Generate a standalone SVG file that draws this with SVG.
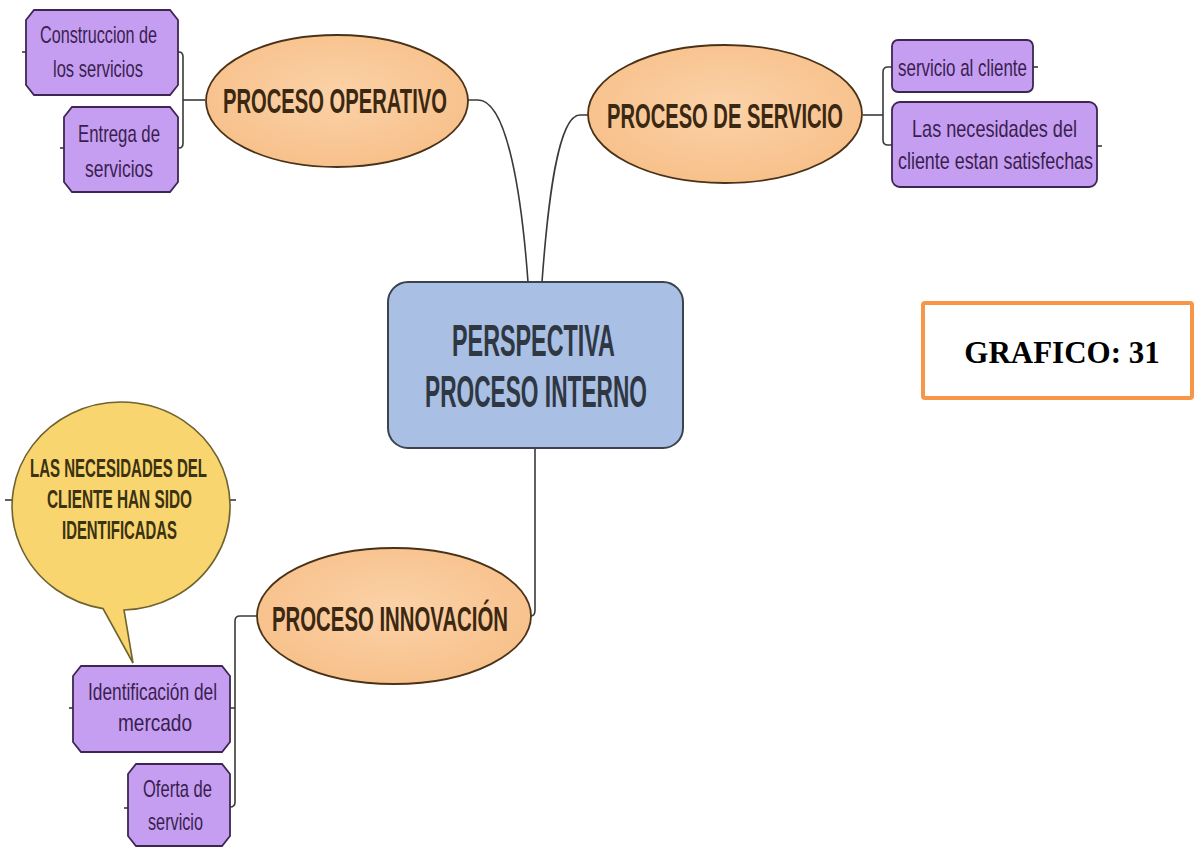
<svg xmlns="http://www.w3.org/2000/svg" width="1194" height="849" viewBox="0 0 1194 849">
<defs>
<radialGradient id="peach" cx="50%" cy="45%" r="60%">
<stop offset="0" stop-color="#fbd2a8"/>
<stop offset="1" stop-color="#f7bf88"/>
</radialGradient>
</defs>
<style>
.conn{fill:none;stroke:#3a3a3a;stroke-width:1.6}
.oval{fill:url(#peach);stroke:#4a3218;stroke-width:1.8}
.ovtxt{font-family:"Liberation Sans",Arial,sans-serif;font-weight:bold;font-size:36px;fill:#3b2812}
.leaf{fill:#c59ef2;stroke:#3d2752;stroke-width:1.8}
.lftxt{font-family:"Liberation Sans",Arial,sans-serif;font-size:24px;fill:#3a1f4e}
.ctr{fill:#a9bfe4;stroke:#3b434e;stroke-width:2}
.ctrtxt{font-family:"Liberation Sans",Arial,sans-serif;font-weight:bold;font-size:45px;fill:#2f3742}
.bub{fill:#f8d56e;stroke:#6f6330;stroke-width:1.6}
.bubtxt{font-family:"Liberation Sans",Arial,sans-serif;font-weight:bold;font-size:25px;fill:#3a3212}
</style>
<g id="connectors">
<path class="conn" d="M468,100 L478,100 C508,100 522,200 528,282"/>
<path class="conn" d="M588,115 L580,115 C558,115 548,200 542,282"/>
<path class="conn" d="M535,448 L535,610 Q535,616 531,616"/>
<path class="conn" d="M205,100 L183,100"/>
<path class="conn" d="M178,52 L179,52 Q183,52 183,57 L183,143 Q183,148 179,148 L178,148"/>
<path class="conn" d="M22,52 L26,52"/>
<path class="conn" d="M60,148 L64,148"/>
<path class="conn" d="M863,115 L883,115"/>
<path class="conn" d="M892,67 L888,67 Q883,67 883,72 L883,140 Q883,145 888,145 L892,145"/>
<path class="conn" d="M1033,67 L1038,67"/>
<path class="conn" d="M1097,146 L1102,146"/>
<path class="conn" d="M257,616 L240,616 Q235,616 235,621 L235,802 Q235,807 230,807"/>
<path class="conn" d="M230,708 L235,708"/>
<path class="conn" d="M69,708 L73,708"/>
<path class="conn" d="M124,808 L128,808"/>
<path class="conn" d="M5,500 L12,500"/>
<path class="conn" d="M230,500 L236,500"/>
</g>
<g id="central">
<rect class="ctr" x="388" y="282" width="295" height="166" rx="20"/>
<text class="ctrtxt" transform="translate(452,356) scale(0.513,1)" textLength="317.6" lengthAdjust="spacingAndGlyphs">PERSPECTIVA</text>
<text class="ctrtxt" transform="translate(425,407) scale(0.5045,1)" textLength="440" lengthAdjust="spacingAndGlyphs">PROCESO INTERNO</text>
</g>
<g id="operativo">
<ellipse class="oval" cx="337" cy="101" rx="131" ry="66"/>
<text class="ovtxt" transform="translate(223,113) scale(0.557,1)" textLength="402" lengthAdjust="spacingAndGlyphs">PROCESO OPERATIVO</text>
</g>
<g id="servicio">
<ellipse class="oval" cx="725" cy="114" rx="137" ry="69"/>
<text class="ovtxt" transform="translate(607,128) scale(0.559,1)" textLength="422" lengthAdjust="spacingAndGlyphs">PROCESO DE SERVICIO</text>
</g>
<g id="innovacion">
<ellipse class="oval" cx="394" cy="616" rx="137" ry="68"/>
<text class="ovtxt" transform="translate(272,631) scale(0.599,1)" textLength="394" lengthAdjust="spacingAndGlyphs">PROCESO INNOVACIÓN</text>
</g>
<g id="construccion">
<path class="leaf" d="M34,10 L170,10 L178,20 L178,85 L170,95 L34,95 L26,85 L26,20 Z"/>
<text class="lftxt" x="40" y="43" textLength="117" lengthAdjust="spacingAndGlyphs">Construccion de</text>
<text class="lftxt" x="53" y="77" textLength="90" lengthAdjust="spacingAndGlyphs">los servicios</text>
</g>
<g id="entrega">
<path class="leaf" d="M72,107 L170,107 L178,117 L178,182 L170,192 L72,192 L64,182 L64,117 Z"/>
<text class="lftxt" x="78" y="142" textLength="82" lengthAdjust="spacingAndGlyphs">Entrega de</text>
<text class="lftxt" x="85" y="177" textLength="68" lengthAdjust="spacingAndGlyphs">servicios</text>
</g>
<g id="servicio-cliente">
<rect class="leaf" x="892" y="40" width="141" height="52" rx="6"/>
<text class="lftxt" x="898" y="76" textLength="129" lengthAdjust="spacingAndGlyphs">servicio al cliente</text>
</g>
<g id="necesidades-satisfechas">
<rect class="leaf" x="892" y="102" width="205" height="85" rx="8"/>
<text class="lftxt" x="912" y="137" textLength="165" lengthAdjust="spacingAndGlyphs">Las necesidades del</text>
<text class="lftxt" x="898" y="169" textLength="195" lengthAdjust="spacingAndGlyphs">cliente estan satisfechas</text>
</g>
<g id="burbuja">
<path class="bub" d="M124,610 A109,104 0 1 0 103,608.6 L133,663 Z"/>
<text class="bubtxt" x="30" y="477" textLength="177" lengthAdjust="spacingAndGlyphs">LAS NECESIDADES DEL</text>
<text class="bubtxt" x="47" y="508" textLength="145" lengthAdjust="spacingAndGlyphs">CLIENTE HAN SIDO</text>
<text class="bubtxt" x="62" y="539" textLength="115" lengthAdjust="spacingAndGlyphs">IDENTIFICADAS</text>
</g>
<g id="identificacion">
<path class="leaf" d="M81,666 L222,666 L230,676 L230,742 L222,752 L81,752 L73,742 L73,676 Z"/>
<text class="lftxt" x="88" y="700" textLength="129" lengthAdjust="spacingAndGlyphs">Identificación del</text>
<text class="lftxt" x="118" y="731" textLength="74" lengthAdjust="spacingAndGlyphs">mercado</text>
</g>
<g id="oferta">
<path class="leaf" d="M136,764 L222,764 L230,774 L230,836 L222,846 L136,846 L128,836 L128,774 Z"/>
<text class="lftxt" x="143" y="797" textLength="69" lengthAdjust="spacingAndGlyphs">Oferta de</text>
<text class="lftxt" x="148" y="830" textLength="55" lengthAdjust="spacingAndGlyphs">servicio</text>
</g>
<g id="grafico">
<rect x="923" y="303" width="269" height="95" rx="2" fill="#ffffff" stroke="#f79646" stroke-width="4"/>
<text x="1062" y="363" text-anchor="middle" font-family="'Liberation Serif','Times New Roman',serif" font-weight="bold" font-size="31px" fill="#000000">GRAFICO: 31</text>
</g>
</svg>
